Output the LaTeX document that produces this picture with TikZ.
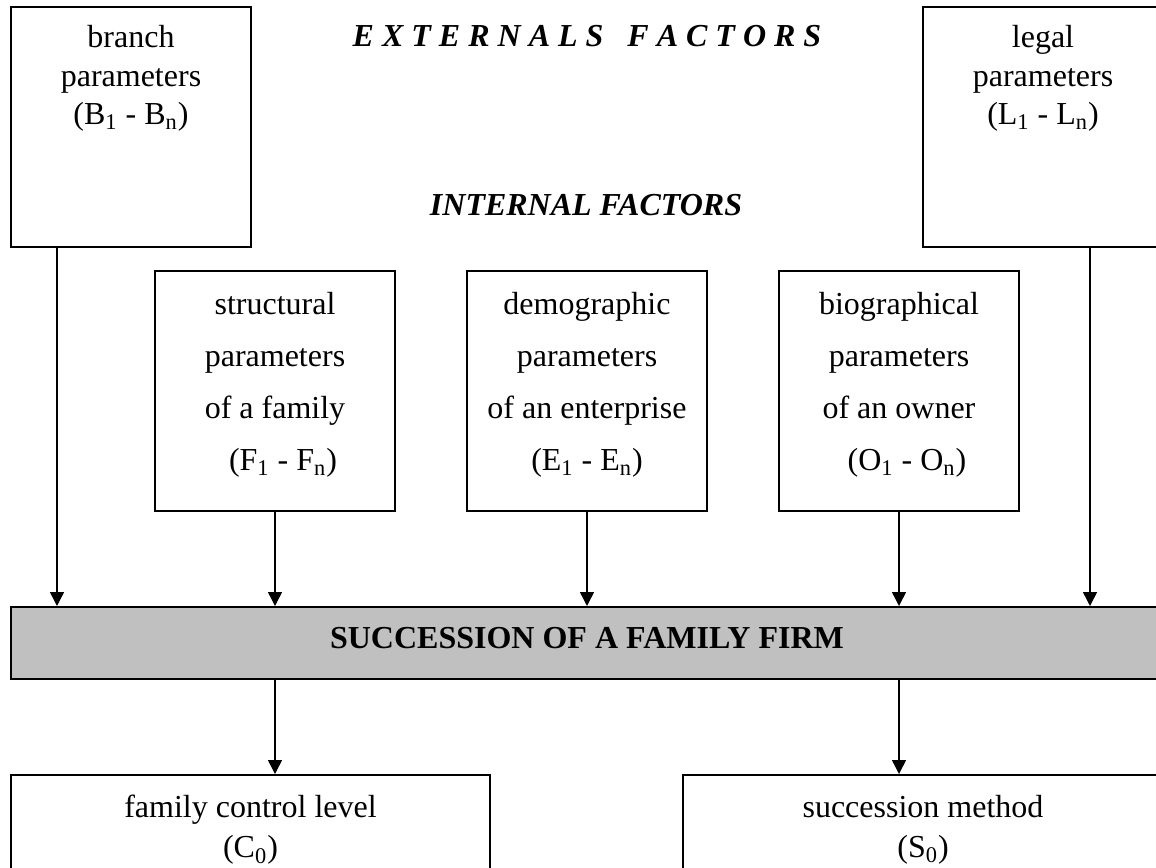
\documentclass[tikz,border=0pt]{standalone}
\usepackage{fontspec}
\setmainfont{Liberation Serif}
\usetikzlibrary{arrows.meta}
\definecolor{barfill}{HTML}{C0C0C0}
\begin{document}
\begin{tikzpicture}[x=0.5pt,y=-0.5pt,
  box/.style={draw,line width=1pt,inner sep=0pt,minimum width=120pt,minimum height=120pt},
  txt/.style={inner sep=0pt,align=center,anchor=north,font=\fontsize{16}{19.25}\selectfont},
  txtm/.style={inner sep=0pt,align=center,anchor=north,font=\fontsize{16}{26}\selectfont},
  txtb/.style={inner sep=0pt,align=center,anchor=north,font=\fontsize{16}{20}\selectfont},
  title/.style={inner sep=0pt,font=\fontsize{16}{19}\selectfont\bfseries\itshape},
  arr/.style={-{Triangle[length=7pt,width=7pt]},line width=0.75pt}]
\clip (0,0) rectangle (1156,867);
\fill[white] (0,0) rectangle (1156,867);
% top external boxes
\node[box] (branch) at (131,127) {};
\node[box] (legal) at (1043,127) {};
\node[txt] (branchT) at (131,25) {branch\\parameters\\(B\textsubscript{1} - B\textsubscript{n})};
\node[txt] (legalT) at (1043,25) {legal\\parameters\\(L\textsubscript{1} - L\textsubscript{n})};
% titles
\node[title] (ext) at (587,36) {E X T E R N A L S\ \ \ F A C T O R S};
\node[title] (int) at (586,205) {INTERNAL FACTORS};
% internal boxes
\node[box] (struct) at (275,391) {};
\node[box] (demo) at (587,391) {};
\node[box] (bio) at (899,391) {};
\node[txtm] (structT) at (275,292) {structural\\parameters\\of a family\\\hspace*{8pt}(F\textsubscript{1} - F\textsubscript{n})};
\node[txtm] (demoT) at (587,292) {demographic\\parameters\\of an enterprise\\(E\textsubscript{1} - E\textsubscript{n})};
\node[txtm] (bioT) at (899,292) {biographical\\parameters\\of an owner\\\hspace*{8pt}(O\textsubscript{1} - O\textsubscript{n})};
% succession bar
\node[draw,line width=1pt,fill=barfill,inner sep=0pt,minimum width=576pt,minimum height=36pt] (bar) at (587,643) {};
\node[inner sep=0pt,font=\fontsize{16}{19}\selectfont\bfseries,yshift=2.5pt] (barT) at (bar) {SUCCESSION OF A FAMILY FIRM};
% bottom boxes
\node[draw,line width=1pt,inner sep=0pt,minimum width=239.5pt,minimum height=55pt] (family) at (250.5,830) {};
\node[draw,line width=1pt,inner sep=0pt,minimum width=240pt,minimum height=55pt] (method) at (923,830) {};
\node[txtb] (familyT) at (250.5,795) {family control level\\(C\textsubscript{0})};
\node[txtb] (methodT) at (923,795) {succession method\\(S\textsubscript{0})};
% arrows into bar
\draw[arr] ([xshift=23.5pt]branch.south west) -- ([xshift=23.5pt]branch.south west |- bar.north);
\draw[arr] ([xshift=84pt]legal.south west) -- ([xshift=84pt]legal.south west |- bar.north);
\draw[arr] (struct.south) -- (struct.south |- bar.north);
\draw[arr] (demo.south) -- (demo.south |- bar.north);
\draw[arr] (bio.south) -- (bio.south |- bar.north);
% arrows out of bar
\draw[arr] (struct.south |- bar.south) -- (struct.south |- family.north);
\draw[arr] (bio.south |- bar.south) -- (bio.south |- method.north);
\end{tikzpicture}
\end{document}
